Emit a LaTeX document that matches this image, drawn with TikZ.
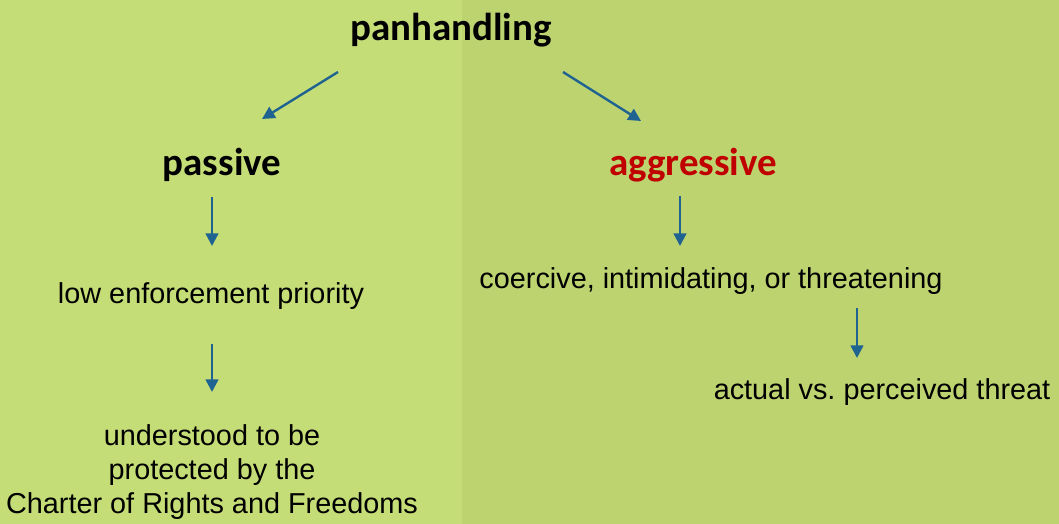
\documentclass[tikz,border=0pt]{standalone}
\usepackage{fontspec}
\setmainfont{Liberation Sans}
\newfontfamily\headfont{Carlito}
\usetikzlibrary{calc,arrows.meta}
\definecolor{leftbg}{HTML}{C5DD76}
\definecolor{rightbg}{HTML}{BDD370}
\definecolor{arrowblue}{HTML}{1F6391}
\definecolor{aggred}{HTML}{C00000}

\begin{document}
\begin{tikzpicture}[x=0.025cm,y=-0.025cm,>={Triangle[length=9pt,width=9pt]},
    head/.style={inner sep=0pt,font=\headfont\bfseries\fontsize{27.7}{32}\selectfont},
    body/.style={inner sep=0pt,align=center,font=\fontsize{20.5}{24.2}\selectfont},
    arr/.style={->,draw=arrowblue,line width=1.7pt}]
        \useasboundingbox (0,0) rectangle (1059,524);
        \fill[leftbg] (0,0) rectangle (462,524);
        \fill[rightbg] (462,0) rectangle (1059,524);
        \path
        % top
        (451,30)  node[head] (panh) {panhandling}
        % 2nd layer
        (222,165) node[head] (passive) {passive}
        (693,165) node[head,text=aggred] (aggr) {aggressive}
        % 3rd layer
        (211,296) node[body] (low) {low enforcement priority}
        (711,281) node[body] (coer) {coercive, intimidating, or threatening}
        % 4th layer
        (212,472) node[body] (under) {understood to be\\protected by the\\Charter of Rights and Freedoms}
        (882,392) node[body] (actual) {actual vs.\ perceived threat};
        \draw[arr] ($(panh)+(-113,42)$)--($(passive)+(40,-46)$);
        \draw[arr] ($(panh)+(112,42)$)--($(aggr)+(-52,-44)$);
        \draw[arr] ($(passive)+(-10,32)$)--($(low)+(1,-50)$);
        \draw[arr] ($(low)+(1,48)$)--($(under)+(0,-80)$);
        \draw[arr] ($(aggr)+(-13,31)$)--($(coer)+(-31,-35)$);
        \draw[arr] ($(coer)+(146,27)$)--($(actual)+(-25,-34)$);
    \end{tikzpicture}
\end{document}
